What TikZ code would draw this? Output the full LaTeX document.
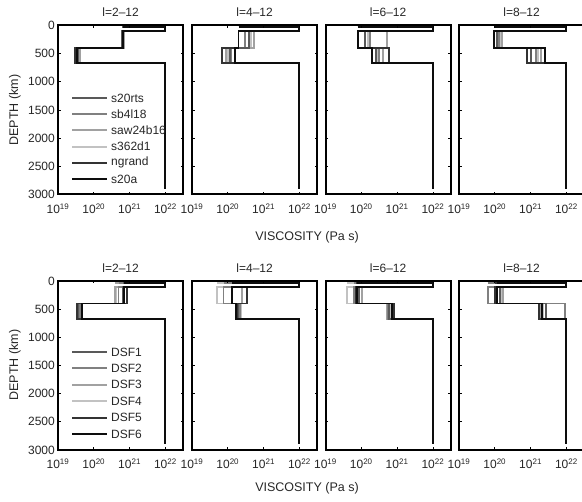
\documentclass[tikz,border=0pt]{standalone}
\usepackage{fontspec}
\setmainfont{Liberation Sans}
\usetikzlibrary{positioning}

\definecolor{cA}{gray}{0.35}
\definecolor{cB}{gray}{0.5}
\definecolor{cC}{gray}{0.63}
\definecolor{cD}{gray}{0.76}
\definecolor{cE}{gray}{0.2}
\definecolor{cF}{gray}{0.05}

\newcommand{\dec}{35.8}

\newcommand{\vpanel}[4]{%
  \draw[frame] (#2,#3) rectangle ++(125.3,169);
  \foreach \k in {1,...,5} {
    \draw[tick] (#2,#3+\k*28.17) -- ++(2.5,0);
    \draw[tick] (#2+125.3,#3+\k*28.17) -- ++(-2.5,0);
  }
  \foreach \k in {1,2,3} {
    \draw[tick] (#2+\k*\dec,#3) -- ++(0,2.5);
    \draw[tick] (#2+\k*\dec,#3+169) -- ++(0,-2.5);
  }
  \node[lab] (#1-title) at (#2+62.6,#3-13) {l=#4};
  \foreach \e in {19,...,22}
    \node[lab, anchor=base] (#1-x\e) at (#2+\e*\dec-19*\dec,#3+188) {10\textsuperscript{\e}};
}

\newcommand{\vprof}[5]{%
  \pgfmathsetmacro\vxu{#1+(#3-19)*\dec}
  \pgfmathsetmacro\vxt{#1+(#4-19)*\dec}
  \pgfmathsetmacro\vxl{#1+3*\dec}
  \draw[prof, #5] (\vxu,#2+1.9) -- (\vxl,#2+1.9) -- (\vxl,#2+5.6) -- (\vxu,#2+5.6)
    -- (\vxu,#2+22.5) -- (\vxt,#2+22.5) -- (\vxt,#2+37.7) -- (\vxl,#2+37.7) -- (\vxl,#2+163.4);
}

\begin{document}
\begin{tikzpicture}[x=1pt,y=-1pt,
    frame/.style={line width=2pt},
    tick/.style={line width=0.7pt},
    prof/.style={line width=1.9pt},
    lab/.style={font=\fontsize{12}{14}\selectfont, text=black!85, inner sep=0pt},
    axlab/.style={lab, font=\fontsize{12.5}{14}\selectfont},
    leglab/.style={lab, anchor=west}]
\clip (0,0) rectangle (582,502);

\foreach \u/\z/\c in {20.81/19.58/cD, 20.84/19.62/cC, 20.82/19.50/cB, 20.80/19.55/cA, 20.83/19.47/cE, 20.82/19.52/cF}
  \vprof{58}{25.5}{\u}{\z}{\c};
\foreach \u/\z/\c in {20.65/20.00/cD, 20.72/19.95/cC, 20.49/20.10/cB, 20.58/20.05/cA, 20.30/19.84/cE, 20.30/20.20/cF}
  \vprof{192}{25.5}{\u}{\z}{\c};
\foreach \u/\z/\c in {20.18/20.45/cD, 20.73/20.60/cC, 20.25/20.50/cB, 20.11/20.40/cA, 19.90/20.77/cE, 19.90/20.30/cF}
  \vprof{325.5}{25.5}{\u}{\z}{\c};
\foreach \u/\z/\c in {20.15/21.20/cD, 20.20/21.28/cC, 20.12/21.14/cB, 20.06/21.00/cA, 19.99/20.90/cE, 19.99/21.41/cF}
  \vprof{459}{25.5}{\u}{\z}{\c};

\foreach \u/\z/\c in {20.62/19.63/cD, 20.59/19.66/cC, 20.69/19.61/cB, 20.82/19.55/cA, 20.92/19.52/cE, 20.85/19.66/cF}
  \vprof{58}{281}{\u}{\z}{\c};
\foreach \u/\z/\c in {19.71/20.38/cD, 20.40/20.30/cC, 19.88/20.35/cB, 20.12/20.30/cA, 20.54/20.25/cE, 20.12/20.22/cF}
  \vprof{192}{281}{\u}{\z}{\c};
\foreach \u/\z/\c in {19.61/20.80/cD, 20.02/20.72/cC, 19.79/20.75/cB, 19.93/20.78/cA, 19.84/20.91/cE, 19.88/20.85/cF}
  \vprof{325.5}{281}{\u}{\z}{\c};
\foreach \u/\z/\c in {20.20/21.35/cD, 20.24/21.30/cC, 19.80/21.95/cB, 20.14/21.42/cA, 20.00/21.23/cE, 20.05/21.32/cF}
  \vprof{459}{281}{\u}{\z}{\c};

\foreach \px/\nm/\t in {58/a1/2, 192/a2/4, 325.5/a3/6, 459/a4/8}
  \vpanel{\nm}{\px}{25.5}{\t--12};
\foreach \px/\nm/\t in {58/b1/2, 192/b2/4, 325.5/b3/6, 459/b4/8}
  \vpanel{\nm}{\px}{281}{\t--12};

\foreach \d in {0,500,...,3000} {
  \node[lab, anchor=east] (ya\d) at (55,25.5+\d*0.05633) {\d};
  \node[lab, anchor=east] (yb\d) at (55,281+\d*0.05633) {\d};
}

\node[axlab, rotate=90] (depth-a) at (15,110) {DEPTH (km)};
\node[axlab, rotate=90] (depth-b) at (15,365) {DEPTH (km)};
\node[axlab] (visc-a) at (307,237) {VISCOSITY (Pa s)};
\node[axlab] (visc-b) at (307,488) {VISCOSITY (Pa s)};

\foreach \m/\c [count=\i] in {s20rts/cA, sb4l18/cB, saw24b16/cC, s362d1/cD, ngrand/cE, s20a/cF} {
  \node[leglab] (leg-\m) at (111,98+\i*16.2-16.2) {\m};
  \draw[prof, \c] ([xshift=-39pt]leg-\m.west) -- ([xshift=-4pt]leg-\m.west);
}
\foreach \m/\c [count=\i] in {DSF1/cA, DSF2/cB, DSF3/cC, DSF4/cD, DSF5/cE, DSF6/cF} {
  \node[leglab] (leg-\m) at (111,352+\i*16.4-16.4) {\m};
  \draw[prof, \c] ([xshift=-39pt]leg-\m.west) -- ([xshift=-4pt]leg-\m.west);
}
\end{tikzpicture}
\end{document}
